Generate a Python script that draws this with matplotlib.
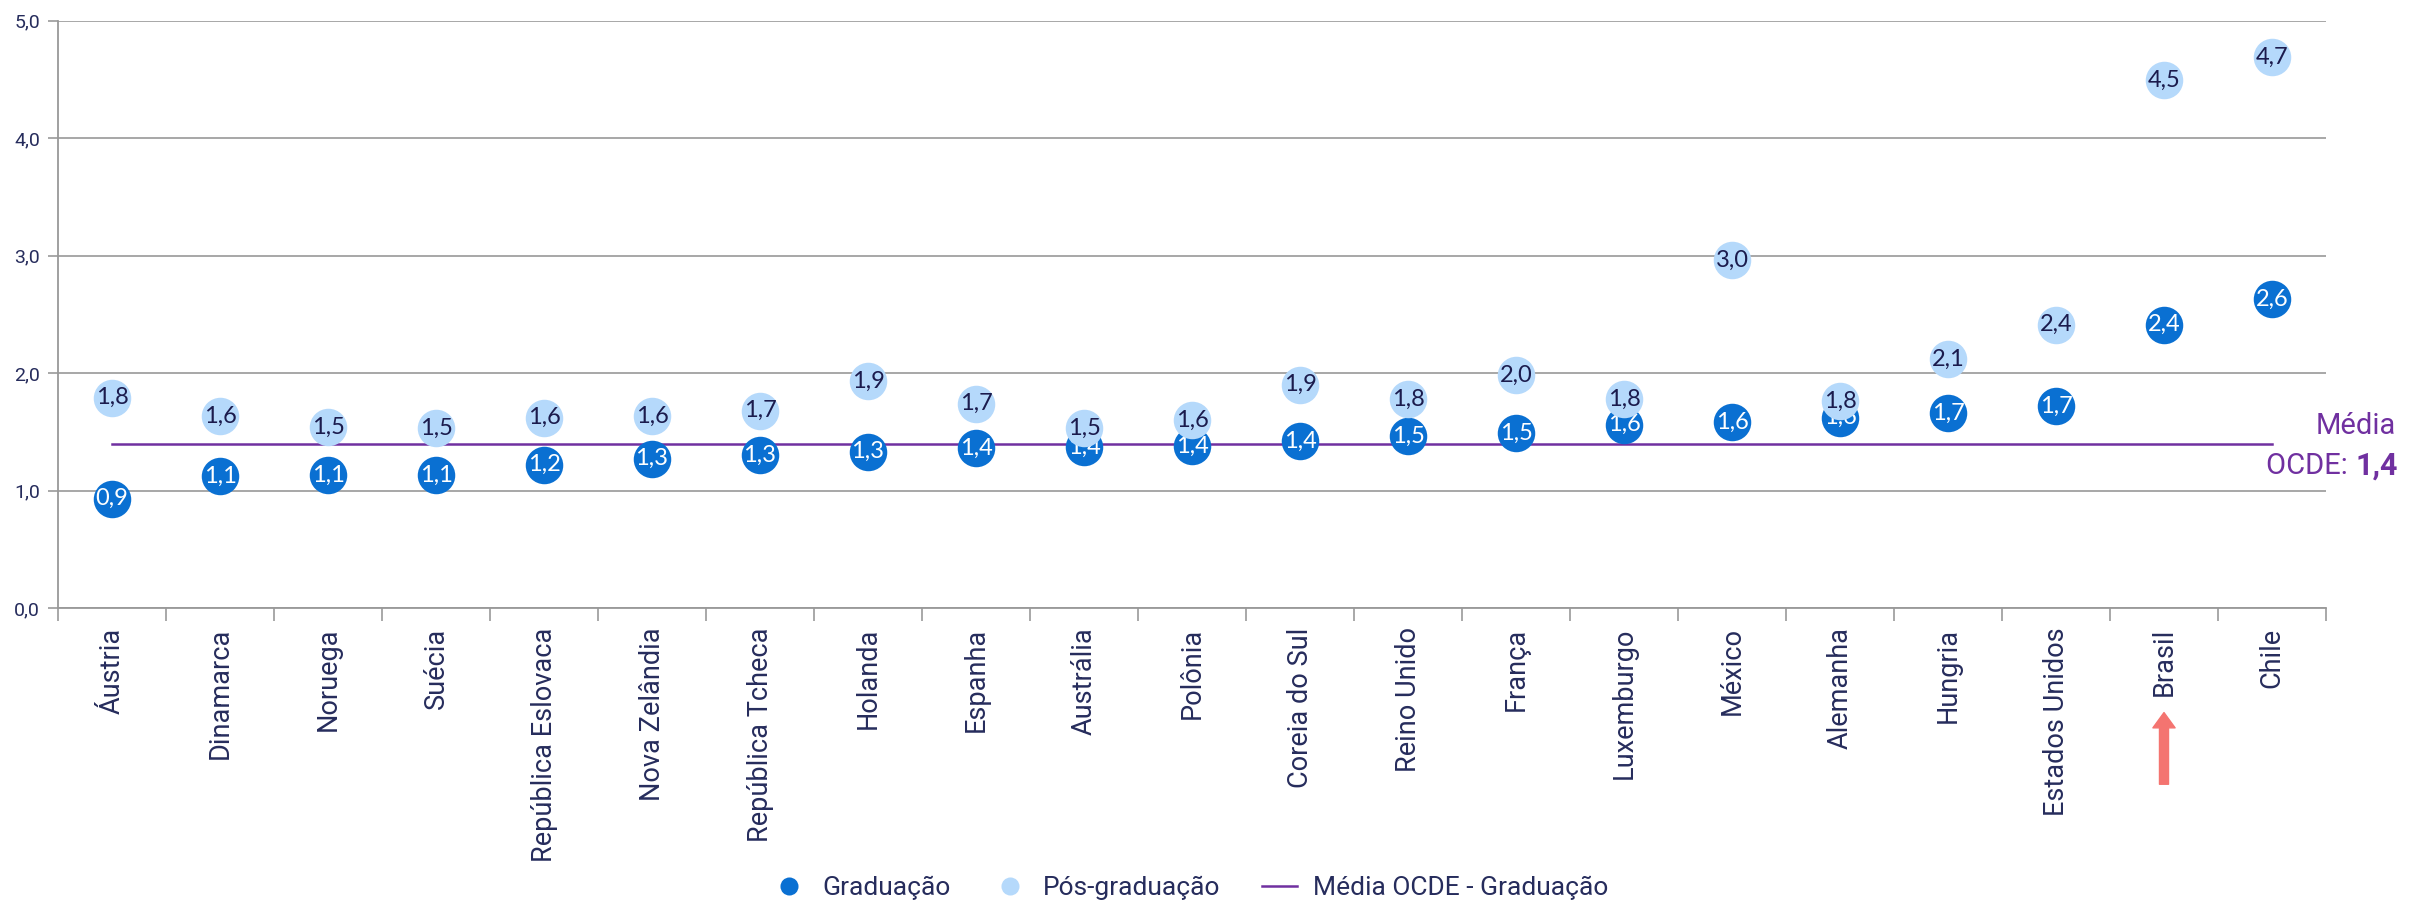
import numpy as np
import matplotlib.pyplot as plt
from matplotlib.lines import Line2D

narrow = ['Roboto', 'DejaVu Sans']

paises = ["Áustria", "Dinamarca", "Noruega", "Suécia", "República Eslovaca",
          "Nova Zelândia", "República Tcheca", "Holanda", "Espanha", "Austrália",
          "Polônia", "Coreia do Sul", "Reino Unido", "França", "Luxemburgo",
          "México", "Alemanha", "Hungria", "Estados Unidos", "Brasil", "Chile"]
graduacao = [0.93, 1.12, 1.13, 1.13, 1.22, 1.27, 1.30, 1.33, 1.36, 1.37, 1.38,
             1.42, 1.46, 1.49, 1.56, 1.58, 1.62, 1.66, 1.72, 2.41, 2.63]
pos_graduacao = [1.79, 1.63, 1.54, 1.53, 1.62, 1.63, 1.68, 1.93, 1.74, 1.53, 1.60,
                 1.90, 1.78, 1.98, 1.78, 2.96, 1.76, 2.12, 2.41, 4.49, 4.69]
media_ocde = 1.4
yticks = [0, 1, 2, 3, 4, 5]

escuro = "#0A70D2"
claro = "#B5D9FB"
roxo = "#7030A0"
texto = "#262C5C"

fig = plt.figure(figsize=(24.14, 9.02), dpi=100)
ax = fig.add_axes([58/2414, 1 - 608/902, 2268/2414, 587.5/902])
x = np.arange(len(paises))

ax.plot(x, [media_ocde]*len(x), color=roxo, lw=1.8, zorder=2)

ax.plot(x, graduacao, 'o', ms=27, color=escuro, mec='none', zorder=3)
for xi, v in zip(x, graduacao):
    ax.text(xi, v, f"{v:.1f}".replace('.', ','), ha='center', va='center',
            color='white', fontsize=17, family=['Lato', 'DejaVu Sans'], zorder=4)
ax.plot(x, pos_graduacao, 'o', ms=27, color=claro, mec='none', zorder=5)
for xi, v in zip(x, pos_graduacao):
    ax.text(xi, v, f"{v:.1f}".replace('.', ','), ha='center', va='center',
            color="#1B1B4D", fontsize=17, family=['Lato', 'DejaVu Sans'], zorder=6)

ax.set_xlim(-0.5, len(paises) - 0.5)
ax.set_ylim(0, 5)
ax.set_yticks(yticks)
ax.set_yticklabels([f"{t:.1f}".replace('.', ',') for t in yticks],
                   fontsize=14, color=texto, family=narrow)
ax.set_xticks(x)
ax.set_xticklabels(paises, rotation=90, fontsize=19.5, color=texto, family=narrow)
ax.set_xticks(np.arange(len(paises) + 1) - 0.5, minor=True)
ax.tick_params(axis='x', which='major', length=0, pad=14)
ax.tick_params(axis='x', which='minor', length=9, color='#999999', width=1.2)
ax.tick_params(axis='y', length=7, color='#999999', width=1.2, pad=6)
ax.grid(axis='y', color='#A0A0A0', lw=1.3)
ax.set_axisbelow(True)
for s in ['top', 'right']:
    ax.spines[s].set_visible(False)
for s in ['left', 'bottom']:
    ax.spines[s].set_color('#999999')
    ax.spines[s].set_linewidth(1.3)

# rótulo da média
ax.text(1.013, (media_ocde + 0.15) / 5, "Média", transform=ax.transAxes,
        ha='center', va='center', color=roxo, fontsize=21, family=narrow)
ax.text(1.013, (media_ocde - 0.19) / 5, "OCDE: ", transform=ax.transAxes,
        ha='right', va='center', color=roxo, fontsize=21, family=narrow)
ax.text(1.013, (media_ocde - 0.19) / 5, "1,4", transform=ax.transAxes,
        ha='left', va='center', color=roxo, fontsize=22, family=narrow, weight='bold')

# seta no Brasil
ax.annotate("", xy=(paises.index("Brasil"), -0.178), xytext=(paises.index("Brasil"), -0.30),
            xycoords=ax.get_xaxis_transform(), textcoords=ax.get_xaxis_transform(),
            arrowprops=dict(width=6.5, headwidth=16, headlength=11, color="#F47470", shrink=0))

handles = [Line2D([], [], marker='o', ls='none', ms=13, color=escuro, mec='none'),
           Line2D([], [], marker='o', ls='none', ms=13, color=claro, mec='none'),
           Line2D([], [], color=roxo, lw=1.8)]
fig.legend(handles, ["Graduação", "Pós-graduação", "Média OCDE - Graduação"],
           loc='center', bbox_to_anchor=(1190/2414, 1 - 888/902), ncol=3, frameon=False,
           prop={'family': narrow, 'size': 19}, labelcolor=texto,
           handlelength=1.3, columnspacing=1.6, handletextpad=0.6, borderpad=0)

fig.savefig("out.png", dpi=100, facecolor='white')
